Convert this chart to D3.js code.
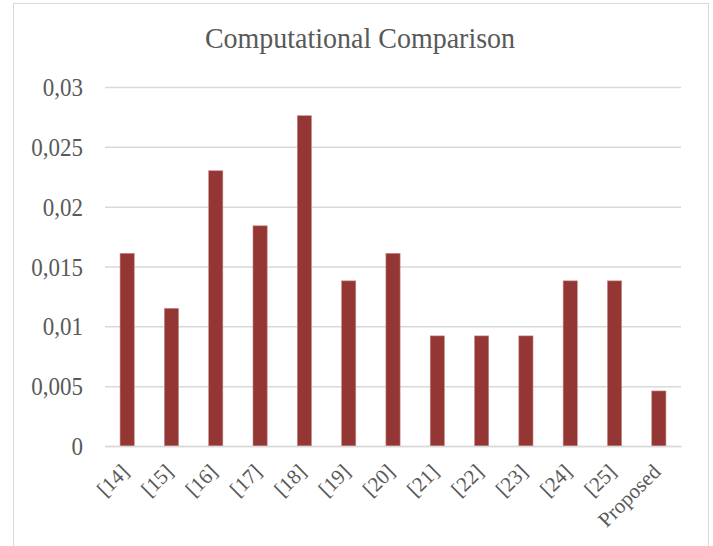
<!DOCTYPE html>
<html><head><meta charset="utf-8">
<script src="https://cdn.jsdelivr.net/npm/d3@7"></script>
<style>
body{margin:0;background:#fff;}
text{font-family:"Liberation Serif","Times New Roman",serif;fill:#595959;}
</style></head>
<body><svg id="c" width="713" height="546"></svg>
<script>
const categories = ["[14]","[15]","[16]","[17]","[18]","[19]","[20]","[21]","[22]","[23]","[24]","[25]","Proposed"];
const values = [0.0161,0.0115,0.0230,0.0184,0.0276,0.0138,0.0161,0.0092,0.0092,0.0092,0.0138,0.0138,0.0046];
const yTicks = [0,0.005,0.01,0.015,0.02,0.025,0.03];
const yTickLabels = ["0","0,005","0,01","0,015","0,02","0,025","0,03"];
const title = "Computational Comparison";

const svg = d3.select("#c");
svg.append("rect").attr("x",13.5).attr("y",3.5).attr("width",695).attr("height",560)
  .attr("fill","#fff").attr("stroke","#d9d9d9").attr("stroke-width",1);

const x = d3.scaleBand().domain(categories).range([105,681]).paddingInner(0.68).paddingOuter(0.34);
const y = d3.scaleLinear().domain([0,0.03]).range([446,87]);

svg.append("text").attr("text-anchor","middle")
  .attr("transform","translate(360,48) scale(1,1.05)")
  .attr("font-size",28).text(title);

const yAxis = d3.axisLeft(y).tickValues(yTicks).tickSize(-(681-105)).tickFormat((d,i)=>yTickLabels[i]).tickPadding(22);
const gy = svg.append("g").attr("transform","translate(105,0)").call(yAxis);
gy.select(".domain").remove();
gy.selectAll(".tick line").attr("stroke","#d9d9d9").attr("stroke-width",1.5);
gy.selectAll(".tick text").attr("font-size",23).attr("fill","#595959").attr("dy","0.34em")
  .attr("x",0).attr("transform","translate(-22,0) scale(1,1.1)");

svg.append("g").selectAll("rect").data(values).join("rect")
  .attr("x",(d,i)=>x(categories[i])).attr("width",x.bandwidth())
  .attr("y",d=>y(d)).attr("height",d=>y(0)-y(d))
  .attr("fill","#943634").attr("stroke","#c48a88").attr("stroke-width",0.6);

const xAxis = d3.axisBottom(x).tickSize(0).tickPadding(0);
const gx = svg.append("g").attr("transform","translate(0,446)").call(xAxis);
gx.select(".domain").attr("stroke","#d9d9d9").attr("stroke-width",1.5);
gx.selectAll(".tick text").attr("font-size",21).attr("fill","#595959")
  .attr("text-anchor","end").attr("dy",0).attr("y",0)
  .attr("transform","translate(3,27) rotate(-45)");
</script></body></html>
